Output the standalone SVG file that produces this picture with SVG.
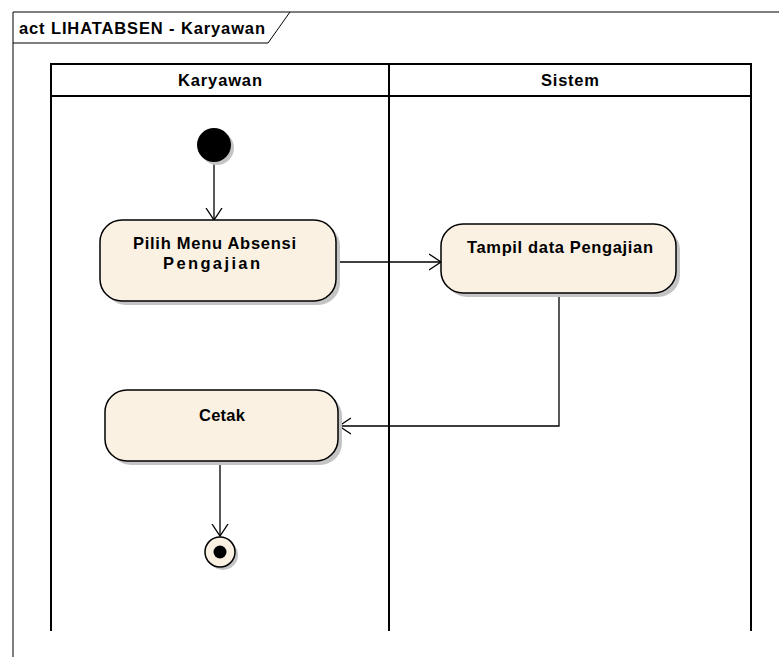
<svg xmlns="http://www.w3.org/2000/svg" width="779" height="657" viewBox="0 0 779 657">
<defs>
<style>
text{font-family:"Liberation Sans",Arial,sans-serif;font-weight:bold;fill:#000;font-size:16.5px}
.act{fill:#FBF1E3;stroke:#000;stroke-width:1.5}
.sh{fill:#C4C4C4}
.ln{fill:none;stroke:#000;stroke-width:1.3}
.lane{fill:none;stroke:#000;stroke-width:2}
</style>
<marker id="open" markerWidth="14" markerHeight="18" refX="12" refY="9" orient="auto" markerUnits="userSpaceOnUse">
<path d="M0,1 L12,9 L0,17" fill="none" stroke="#000" stroke-width="1.3"/>
</marker>
</defs>
<rect width="779" height="657" fill="#fff"/>
<g id="frame">
<path d="M13,657 L13,12 L779,12" fill="none" stroke="#000" stroke-width="1"/>
<path d="M13,43 L268,43 L290,12" fill="none" stroke="#000" stroke-width="1"/>
<text x="19" y="34" textLength="246" lengthAdjust="spacing">act LIHATABSEN - Karyawan</text>
</g>
<g id="lanes">
<path class="lane" d="M51,631 L51,64 L751,64 L751,631 M389,64 L389,631 M51,96 L751,96"/>
<text x="178" y="86" textLength="84" lengthAdjust="spacing">Karyawan</text>
<text x="541" y="86" textLength="58" lengthAdjust="spacing">Sistem</text>
</g>
<g id="connectors">
<path class="ln" d="M214,162 L214,220" marker-end="url(#open)"/>
<path class="ln" d="M336,262 L441,262" marker-end="url(#open)"/>
<path class="ln" d="M559,293 L559,426 L339,426" marker-end="url(#open)"/>
<path class="ln" d="M220,461 L220,536" marker-end="url(#open)"/>
</g>
<g id="start">
<circle class="sh" cx="217" cy="148" r="17"/>
<circle cx="214" cy="145" r="17" fill="#000"/>
</g>
<g id="pilih">
<rect class="sh" x="104" y="224" width="236" height="81" rx="22"/>
<rect class="act" x="100" y="220" width="236" height="81" rx="22"/>
<text x="133" y="249" textLength="163" lengthAdjust="spacing">Pilih Menu Absensi</text>
<text x="163" y="269" textLength="97" lengthAdjust="spacing">Pengajian</text>
</g>
<g id="tampil">
<rect class="sh" x="445" y="228" width="235" height="69" rx="22"/>
<rect class="act" x="441" y="224" width="235" height="69" rx="22"/>
<text x="467" y="253" textLength="186" lengthAdjust="spacing">Tampil data Pengajian</text>
</g>
<g id="cetak">
<rect class="sh" x="109" y="394" width="233" height="71" rx="22"/>
<rect class="act" x="105" y="390" width="233" height="71" rx="22"/>
<text x="199" y="421" textLength="46" lengthAdjust="spacing">Cetak</text>
</g>
<g id="end">
<circle class="sh" cx="223" cy="555" r="15"/>
<circle class="act" cx="220" cy="552" r="15"/>
<circle cx="220" cy="552" r="6.5" fill="#000"/>
</g>
</svg>
